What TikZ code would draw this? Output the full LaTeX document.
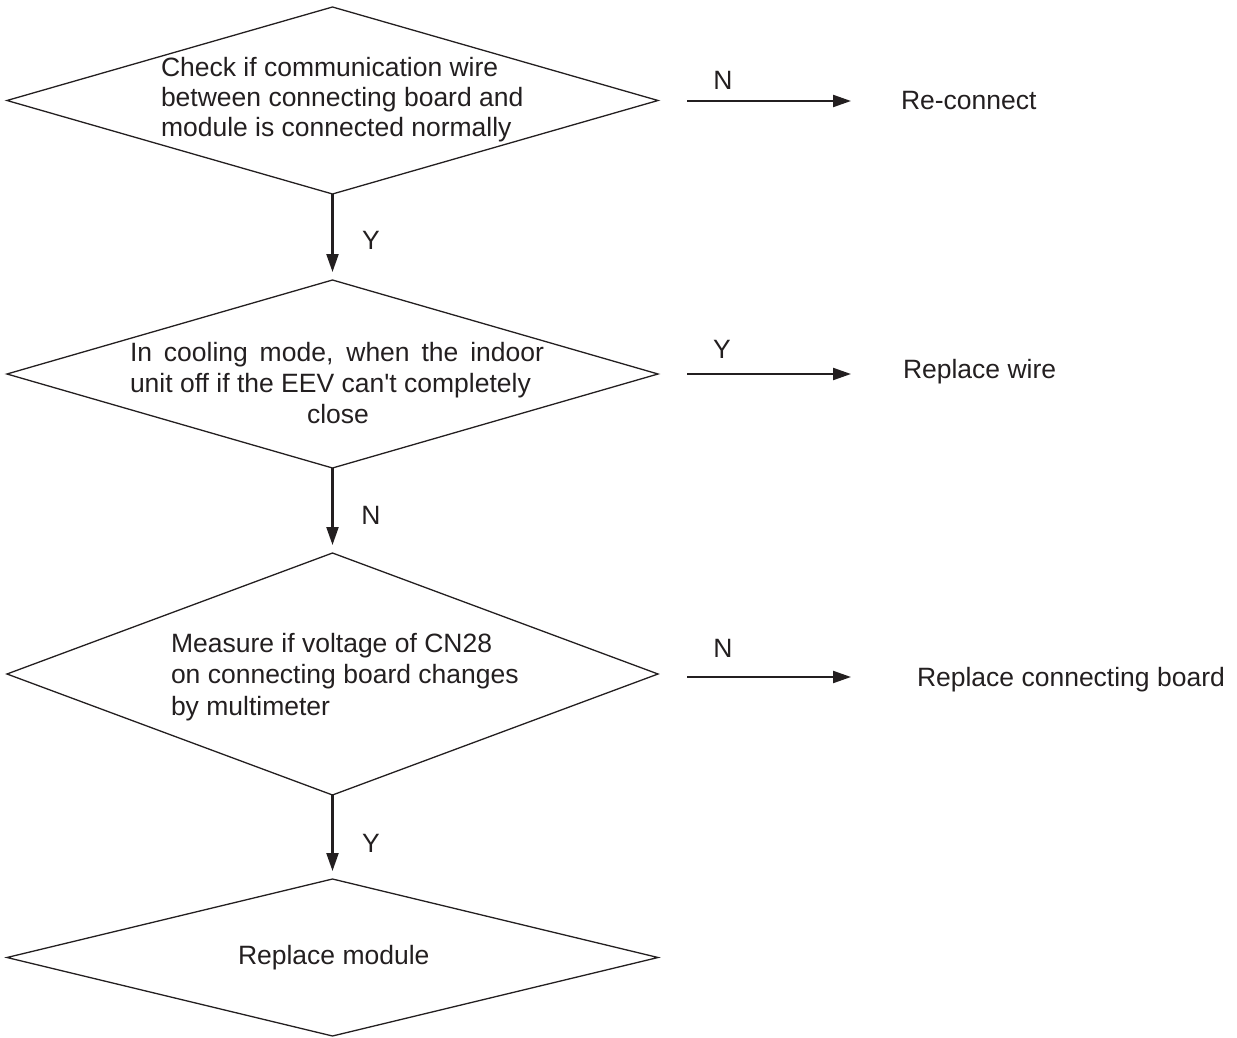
\documentclass[tikz,border=0pt]{standalone}
\usepackage{fontspec}
\setmainfont{Liberation Sans}[Ligatures=TeXOff]
\usetikzlibrary{shapes.geometric,arrows.meta}
\definecolor{ink}{HTML}{231F20}
\begin{document}
\begin{tikzpicture}[x=1pt,y=-1pt,
  dia/.style={shape=diamond,draw=ink,line width=1.3pt,minimum width=651pt,inner sep=0pt,outer sep=0pt},
  txt/.style={inner sep=0pt,outer sep=0pt,text=ink,font=\fontsize{26.5}{31}\selectfont},
  lbl/.style={txt},
  arr/.style={draw=ink,line width=2.2pt,-{Triangle[length=18pt,width=12pt]}}]
\useasboundingbox (0,0) rectangle (1237,1038);
% diamonds
\node[dia,minimum height=187pt] (d1) at (332.5,100.5) {};
\node[dia,minimum height=188pt] (d2) at (332.5,374) {};
\node[dia,minimum height=242pt] (d3) at (332.5,674) {};
\node[dia,minimum height=157pt] (d4) at (332.5,957.5) {};
% diamond texts
\node[txt,anchor=base west] (t1a) at (161,77) {Check if communication wire};
\node[txt,anchor=base west] (t1b) at (161,107) {between connecting board and};
\node[txt,anchor=base west] (t1c) at (161,137) {module is connected normally};
\node[txt,anchor=base west] (t2a) at (130,361) {\makebox[414pt][s]{In cooling mode, when the indoor}};
\node[txt,anchor=base west] (t2b) at (130,392) {unit off if the EEV can't completely};
\node[txt,anchor=base] (t2c) at (338,423) {close};
\node[txt,anchor=base west] (t3a) at (171,652) {Measure if voltage of CN28};
\node[txt,anchor=base west] (t3b) at (171,683.5) {on connecting board changes};
\node[txt,anchor=base west] (t3c) at (171,715) {by multimeter};
\node[txt,anchor=base west] (t4) at (238,964) {Replace module};
% right texts
\node[txt,anchor=base west] (r1) at (901,110) {Re-connect};
\node[txt,anchor=base west] (r2) at (903,378.5) {Replace wire};
\node[txt,anchor=base west] (r3) at (917,686) {Replace connecting board};
% vertical arrows
\draw[arr] (d1.south) -- ([yshift=8pt]d2.north);
\draw[arr] (d2.south) -- ([yshift=8pt]d3.north);
\draw[arr] (d3.south) -- ([yshift=8pt]d4.north);
\node[lbl] (v1) at (371,240) {Y};
\node[lbl] (v2) at (371,515) {N};
\node[lbl] (v3) at (371,843) {Y};
% horizontal arrows
\coordinate (h1s) at (687,101); \coordinate (h1e) at (851,101);
\coordinate (h2s) at (687,374); \coordinate (h2e) at (851,374);
\coordinate (h3s) at (687,677); \coordinate (h3e) at (851,677);
\draw[arr] (h1s) -- (h1e);
\draw[arr] (h2s) -- (h2e);
\draw[arr] (h3s) -- (h3e);
\node[lbl] (l1) at (723,80) {N};
\node[lbl] (l2) at (722,349) {Y};
\node[lbl] (l3) at (723,648) {N};
\end{tikzpicture}
\end{document}
